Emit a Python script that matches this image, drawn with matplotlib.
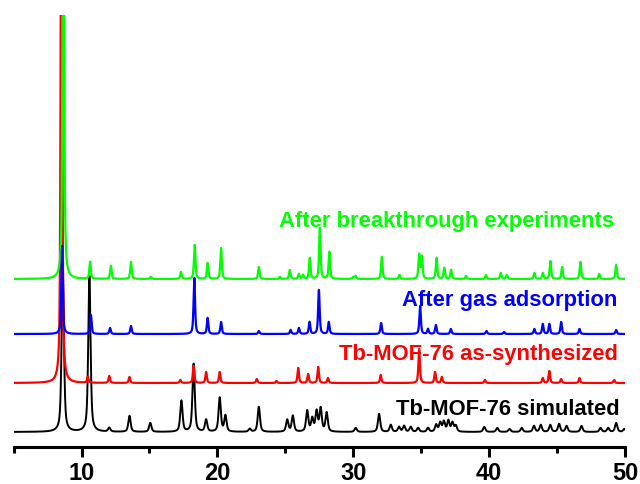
import numpy as np
import matplotlib
matplotlib.use("Agg")
import matplotlib.pyplot as plt

plt.rcParams['font.family'] = ['Liberation Sans', 'DejaVu Sans']

# ---- data: peak positions (2theta, deg) and intensities (a.u.) ----
sim_pos = [8.62, 10.58, 12.04, 13.53, 15.06, 17.35, 18.25, 19.17, 20.17, 20.59, 22.38, 23.05,
           25.14, 25.55, 26.61, 26.98, 27.30, 27.60, 28.04, 30.18, 31.90, 32.76, 33.37, 33.74,
           34.23, 34.77, 35.50, 36.10, 36.40, 36.67, 37.00, 37.30, 37.55, 39.64, 40.60, 41.50,
           42.40, 43.30, 43.80, 44.50, 45.15, 45.70, 46.80, 48.20, 48.76, 49.35, 49.95]
sim_int = [165, 156, 4, 16, 9, 31, 68, 12, 34, 16, 3, 25,
           12, 16, 21, 13, 20, 23, 19, 4, 18, 7, 5, 6,
           5, 4, 4, 7, 9, 10, 11, 9, 6, 5, 4, 3,
           4, 6, 7, 7, 8, 6, 6, 4, 4, 9, 3]

syn_pos = [8.52, 10.46, 12.04, 13.53, 17.27, 18.25, 19.17, 20.17, 22.90, 24.35, 25.95, 26.68,
           27.42, 28.14, 32.02, 34.85, 36.02, 36.52, 39.69, 43.95, 44.43, 45.30, 46.65, 49.20]
syn_int = [600, 6, 7, 6, 3, 17, 11, 11, 4, 2, 15, 9,
           16, 5, 8, 34, 11, 6, 3, 5, 12, 4, 5, 3]

gas_pos = [8.57, 10.69, 12.10, 13.64, 18.30, 19.28, 20.27, 23.05, 25.39, 26.00, 26.78, 27.47,
           28.20, 32.05, 34.92, 35.50, 36.08, 37.18, 39.80, 41.10, 43.33, 43.95, 44.43, 45.30,
           46.65, 49.35]
gas_int = [88, 19, 6, 8, 56, 16, 12, 3, 4, 6, 12, 44,
           12, 11, 28, 5, 9, 5, 3, 2, 5, 10, 10, 12,
           5, 4]

brk_pos = [8.66, 10.63, 12.16, 13.64, 15.10, 17.32, 18.33, 19.28, 20.27, 23.05, 24.60, 25.33,
           26.00, 26.30, 26.80, 27.54, 28.24, 30.00, 30.18, 32.10, 33.40, 34.85, 35.05, 36.13,
           36.70, 37.20, 38.30, 39.76, 40.86, 41.30, 43.33, 43.95, 44.51, 45.37, 46.72, 48.10,
           49.35]
brk_int = [500, 17, 13, 17, 2, 7, 34, 16, 31, 12, 2, 9,
           5, 4, 21, 51, 27, 2, 3, 22, 4, 24, 22, 21,
           11, 9, 3, 4, 6, 4, 6, 6, 18, 12, 17, 5,
           14]

labels = ["Tb-MOF-76 simulated", "Tb-MOF-76 as-synthesized",
          "After gas adsorption", "After breakthrough experiments"]
x_ticks = [10, 20, 30, 40, 50]

# ---- styling / layout ----
colors = ["#000000", "#FF0000", "#0000FF", "#00FF00"]
offsets = [15, 64, 113, 168]
hwhm = [0.10, 0.065, 0.065, 0.065]
widths = [1.4, 1.6, 1.6, 1.6]
label_y_px = [415, 360, 306, 227]
label_x_px = [620, 618, 617, 614]

x = np.linspace(5, 50, 9001)

def profile(pos, inten, w):
    y = np.zeros_like(x)
    for p, h in zip(pos, inten):
        d = (x - p) / w
        y += h * (0.6 / (1 + d**2) + 0.4 * np.exp(-np.log(2) * d**2))
    return y

series = [(sim_pos, sim_int), (syn_pos, syn_int), (gas_pos, gas_int), (brk_pos, brk_int)]

fig = plt.figure(figsize=(6.4, 4.85), dpi=100)
ax = fig.add_axes([13.6/640, (485-448)/485, (625-13.6)/640, (448-16)/485])

order = [0, 1, 3, 2]
for i in order:
    pos, inten = series[i]
    ax.plot(x, profile(pos, inten, hwhm[i]) + offsets[i], color=colors[i], lw=widths[i])

for i in range(4):
    fig.text(label_x_px[i]/640, (485-label_y_px[i])/485, labels[i], color=colors[i],
             fontsize=15.8, fontweight='bold', ha='right', va='baseline')

ax.set_xlim(5, 50)
ax.set_ylim(0, 432)
for s in ['left', 'right', 'top']:
    ax.spines[s].set_visible(False)
ax.spines['bottom'].set_linewidth(2.2)
ax.set_yticks([])
ax.set_xticks(x_ticks)
ax.set_xticks([5, 15, 25, 35, 45], minor=True)
ax.tick_params(axis='x', which='major', length=7, width=2.2, direction='out', pad=3,
               labelsize=17)
ax.tick_params(axis='x', which='minor', length=4.5, width=2.2, direction='out')
for t in ax.get_xticklabels():
    t.set_fontweight('bold')

fig.savefig("out.png", dpi=100)
